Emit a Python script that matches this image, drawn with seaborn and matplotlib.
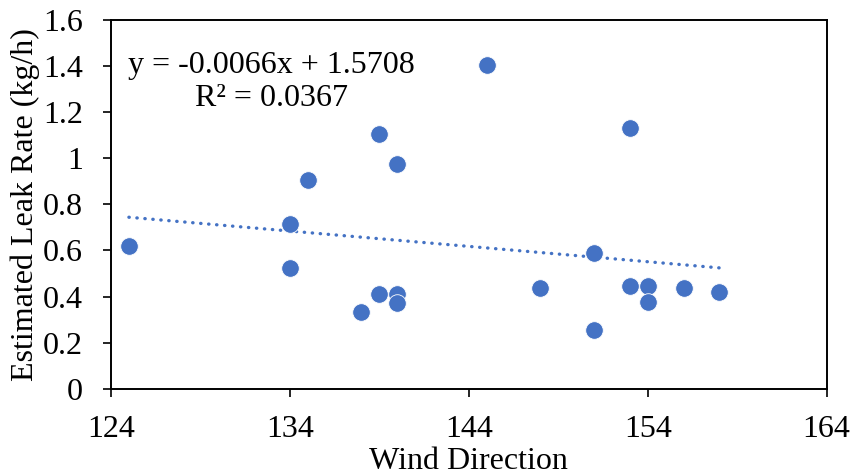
import numpy as np
import pandas as pd
import matplotlib
matplotlib.use("Agg")
import matplotlib.pyplot as plt
import seaborn as sns

wind_direction = [125, 134, 134, 135, 139, 139, 140, 140, 140, 138,
                  145, 153, 151, 148, 151, 153, 154, 154, 156, 158]
leak_rate = [0.617, 0.714, 0.523, 0.903, 1.105, 0.409, 0.976, 0.409, 0.372, 0.334,
             1.405, 1.129, 0.590, 0.437, 0.253, 0.444, 0.445, 0.376, 0.437, 0.421]
x_ticks = [124, 134, 144, 154, 164]
y_ticks = [0, 0.2, 0.4, 0.6, 0.8, 1, 1.2, 1.4, 1.6]
y_tick_labels = ["0", "0.2", "0.4", "0.6", "0.8", "1", "1.2", "1.4", "1.6"]
equation_text = "y = -0.0066x + 1.5708\nR² = 0.0367"

df = pd.DataFrame({"Wind Direction": wind_direction, "Leak": leak_rate})

sns.set_theme(style="white")
plt.rcParams["font.family"] = ["Liberation Serif", "DejaVu Serif"]

color = "#4472C4"
fs = 23
fig = plt.figure(figsize=(8.54, 4.76), dpi=100)
ax = fig.add_axes([0.130, 0.183, 0.838, 0.776])

sns.scatterplot(data=df, x="Wind Direction", y="Leak", ax=ax, color=color,
                s=160, edgecolor="white", linewidth=0.6, zorder=3)

coef = np.polyfit(wind_direction, leak_rate, 1)
xs = np.array([min(wind_direction), max(wind_direction)])
ax.plot(xs, np.polyval(coef, xs), color=color, linewidth=2.4,
        linestyle=(0, (0.1, 2.3)), dash_capstyle="round", zorder=2)

ax.set_xlim(124, 164)
ax.set_ylim(0, 1.6)
ax.set_xticks(x_ticks)
ax.set_xticklabels([str(t) for t in x_ticks])
ax.set_yticks(y_ticks)
ax.set_yticklabels(y_tick_labels)
ax.tick_params(axis="both", direction="out", length=6, width=1.2, color="black",
               labelsize=fs, labelcolor="black", bottom=True, left=True)
ax.tick_params(axis="x", pad=13)
ax.tick_params(axis="y", pad=14)
for side in ["left", "bottom", "top", "right"]:
    ax.spines[side].set_visible(True)
    ax.spines[side].set_color("black")
    ax.spines[side].set_linewidth(1.4)

ax.set_xlabel("Wind Direction", fontsize=fs, color="black", labelpad=2)
ax.set_ylabel("Estimated Leak Rate (kg/h)", fontsize=fs, color="black", labelpad=2)

ax.text(0.2245, 0.830, equation_text, transform=ax.transAxes, ha="center", va="center",
        multialignment="center", fontsize=fs, color="black", linespacing=1.18)

fig.savefig("out.png", dpi=100)
